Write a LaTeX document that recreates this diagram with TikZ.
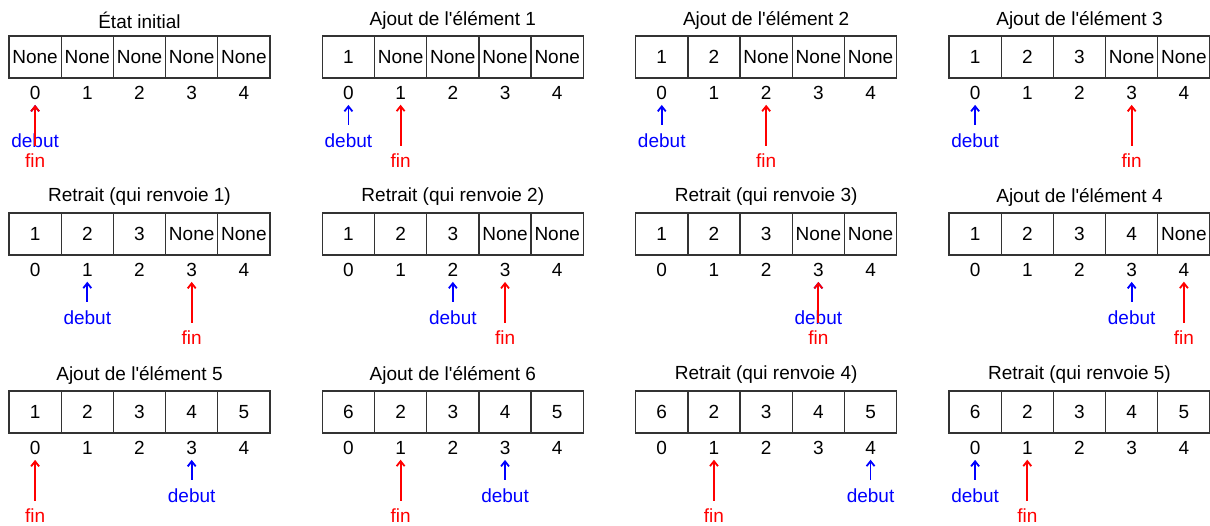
\documentclass[tikz,border=0pt]{standalone}
\usepackage{fontspec}
\setmainfont{Liberation Sans}
\usetikzlibrary{arrows.meta}
\begin{document}
\begin{tikzpicture}[x=1pt,y=-1pt,
  font=\fontsize{19}{22}\selectfont,
  cell/.style={draw=black!80, line width=1.3pt, minimum width=52.2pt, minimum height=42pt, inner sep=0pt, outer sep=0pt, anchor=north west},
  idx/.style={inner sep=0pt},
  ttl/.style={inner sep=0pt},
  dlab/.style={inner sep=0pt, text=blue},
  flab/.style={inner sep=0pt, text=red},
  darrow/.style={draw=blue, line width=1.8pt, -{Straight Barb[length=5pt,width=8pt]}},
  farrow/.style={draw=red, line width=1.8pt, -{Straight Barb[length=5pt,width=8pt]}}]
\useasboundingbox (0,0) rectangle (1210,525);
\foreach \k/\c/\r/\ttltext/\vals/\d/\f in {
  1/0/0/{État initial}/{None,None,None,None,None}/0/0,
  2/1/0/{Ajout de l\textquotesingle élément 1}/{1,None,None,None,None}/0/1,
  3/2/0/{Ajout de l\textquotesingle élément 2}/{1,2,None,None,None}/0/2,
  4/3/0/{Ajout de l\textquotesingle élément 3}/{1,2,3,None,None}/0/3,
  5/0/1/{Retrait (qui renvoie 1)}/{1,2,3,None,None}/1/3,
  6/1/1/{Retrait (qui renvoie 2)}/{1,2,3,None,None}/2/3,
  7/2/1/{Retrait (qui renvoie 3)}/{1,2,3,None,None}/3/3,
  8/3/1/{Ajout de l\textquotesingle élément 4}/{1,2,3,4,None}/3/4,
  9/0/2/{Ajout de l\textquotesingle élément 5}/{1,2,3,4,5}/3/0,
  10/1/2/{Ajout de l\textquotesingle élément 6}/{6,2,3,4,5}/3/1,
  11/2/2/{Retrait (qui renvoie 4)}/{6,2,3,4,5}/4/1,
  12/3/2/{Retrait (qui renvoie 5)}/{6,2,3,4,5}/0/1}{
  \pgfmathsetmacro\L{9+313.33*\c}
  \pgfmathsetmacro\T{{36,213,391}[\r]}
  \node[ttl] (t\k) at (\L+130.5,\T-16) {\ttltext};
  \foreach \v [count=\j from 0] in \vals {
    \node[cell] (c\k-\j) at (\L+52.2*\j,\T) {\v};
    \node[idx] (i\k-\j) at (\L+52.2*\j+26.1,\T+57) {\j};
  }
  \node[dlab] (d\k) at (\L+52.2*\d+26.1,\T+105) {debut};
  \node[flab] (f\k) at (\L+52.2*\f+26.1,\T+125) {fin};
  \draw[darrow] ([yshift=9pt]d\k.north) -- ([yshift=-5pt]i\k-\d.south);
  \draw[farrow] ([yshift=8pt]f\k.north) -- ([yshift=-5pt]i\k-\f.south);
}
\end{tikzpicture}
\end{document}
